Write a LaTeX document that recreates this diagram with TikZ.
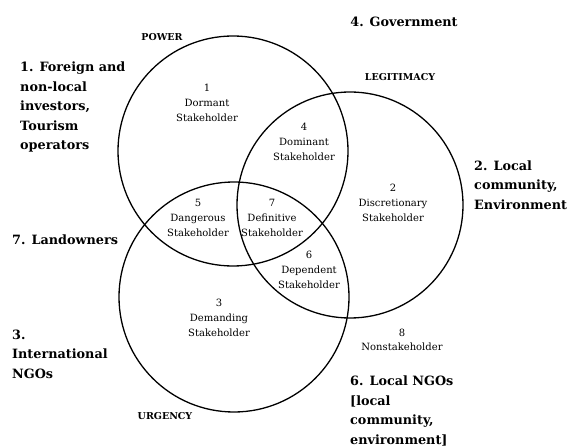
\documentclass[tikz,border=0pt]{standalone}
\usepackage{fontspec}
\setmainfont{DejaVu Serif}
\newfontfamily\labf{DejaVu Serif}
\newfontfamily\bigf{DejaVu Serif}
\begin{document}
\begin{tikzpicture}[x=1pt,y=-1pt,
  setc/.style={circle,draw,line width=1.3pt,minimum size=230pt,inner sep=0},
  inlab/.style={align=center,inner sep=0,font=\labf\fontsize{10}{14.7}\selectfont},
  setname/.style={inner sep=0,font=\labf\bfseries\fontsize{9.5}{10}\selectfont},
  grp/.style={align=left,inner sep=0,anchor=west,font=\bigf\bfseries\fontsize{12.8}{19.5}\selectfont}]
\useasboundingbox (0,0) rectangle (573,446);
\node[setc] (P) at (233,151) {};
\node[setc,minimum size=226pt] (L) at (350,205) {};
\node[setc] (U) at (234,297) {};
\node[setname] (pw) at (162,37) {POWER};
\node[setname] (lg) at (400,77) {LEGITIMACY};
\node[setname] (ug) at (165,416) {URGENCY};
\node[inlab] (s1) at (207,103) {1\\Dormant\\Stakeholder};
\node[inlab] (s4) at (304,142) {4\\Dominant\\Stakeholder};
\node[inlab] (s2) at (393,203) {2\\Discretionary\\Stakeholder};
\node[inlab] (s5) at (198,218) {5\\Dangerous\\Stakeholder};
\node[inlab] (s7) at (272,218) {7\\Definitive\\Stakeholder};
\node[inlab] (s6) at (309,270) {6\\Dependent\\Stakeholder};
\node[inlab] (s3) at (219,318) {3\\Demanding\\Stakeholder};
\node[inlab] (s8) at (402,340) {8\\Nonstakeholder};
\node[grp,anchor=center] (g4) at (404,22) {4. Government};
\node[grp] (g1) at (20,107) {1. Foreign and\\non-local\\investors,\\Tourism\\operators};
\node[grp] (g2) at (474,185) {2. Local\\community,\\Environment};
\node[grp] (g7) at (12,240) {7. Landowners};
\node[grp] (g3) at (12,354) {3.\\International\\NGOs};
\node[grp] (g6) at (350,411) {6. Local NGOs\\{[}local\\community,\\environment]};
\end{tikzpicture}
\end{document}
